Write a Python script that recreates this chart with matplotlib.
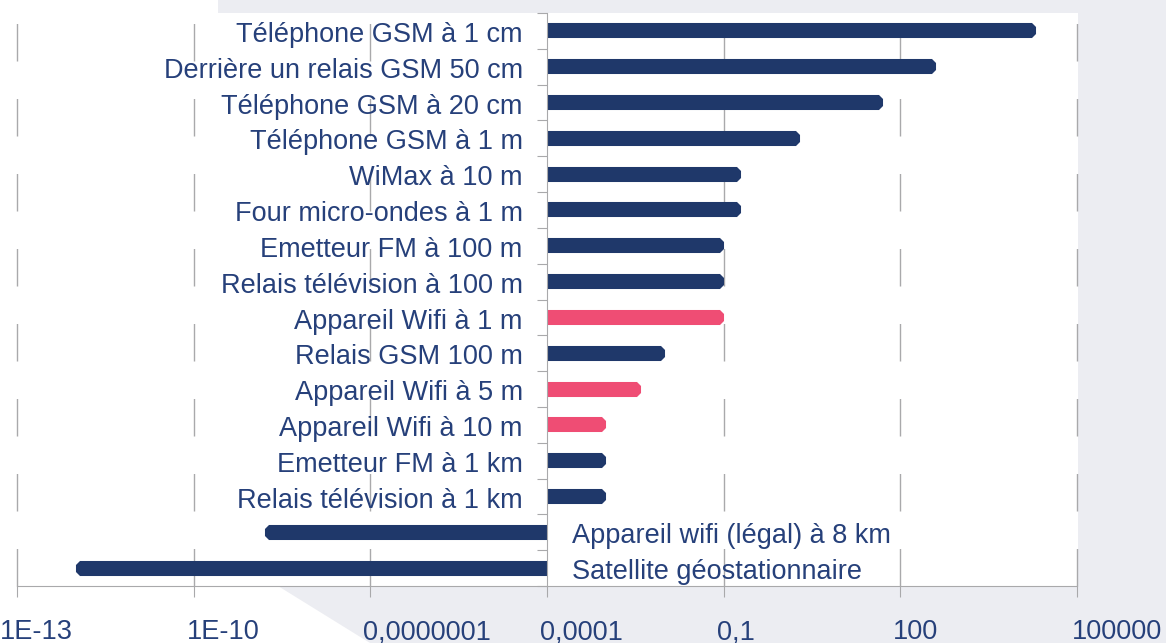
import numpy as np
import matplotlib
matplotlib.use("Agg")
import matplotlib.pyplot as plt
from matplotlib.patches import Polygon, Rectangle
from matplotlib.transforms import ScaledTranslation
from matplotlib.ticker import NullLocator

# exposure levels (log scale, bars start at 0.0001)
labels = [
    "Téléphone GSM à 1 cm",
    "Derrière un relais GSM 50 cm",
    "Téléphone GSM à 20 cm",
    "Téléphone GSM à 1 m",
    "WiMax à 10 m",
    "Four micro-ondes à 1 m",
    "Emetteur FM à 100 m",
    "Relais télévision à 100 m",
    "Appareil Wifi à 1 m",
    "Relais GSM 100 m",
    "Appareil Wifi à 5 m",
    "Appareil Wifi à 10 m",
    "Emetteur FM à 1 km",
    "Relais télévision à 1 km",
    "Appareil wifi (légal) à 8 km",
    "Satellite géostationnaire",
]
values = [20000, 400, 50, 2, 0.2, 0.2, 0.1, 0.1, 0.1, 0.01, 0.004,
          0.001, 0.001, 0.001, 1.6e-9, 1e-12]
wifi_rows = ["Appareil Wifi à 1 m", "Appareil Wifi à 5 m", "Appareil Wifi à 10 m"]

xticks = [1e-13, 1e-10, 1e-7, 1e-4, 1e-1, 1e2, 1e5]
xtick_labels = ["1E-13", "1E-10", "0,0000001", "0,0001", "0,1", "100", "100000"]
base = 1e-4

NAVY = "#1f386a"
PINK = "#ef4d74"
GRID = "#a9a9ab"
TEXT = "#26407a"
BG = "#ecedf2"

plt.rcParams["font.family"] = ["Liberation Sans", "DejaVu Sans"]
plt.rcParams["lines.scale_dashes"] = False

W, H = 1166, 643
fig = plt.figure(figsize=(W / 100, H / 100), dpi=100)
fig.patch.set_facecolor(BG)

# white panel behind the chart
pts = [(0, 0), (218, 0), (218, 13), (1078, 13), (1078, 586), (278, 586), (370, 643), (0, 643)]
fig.patches.append(Polygon([(x / W, 1 - y / H) for x, y in pts], closed=True,
                           transform=fig.transFigure, facecolor="white", edgecolor="none", zorder=-5))

ax = fig.add_axes([17 / W, 57 / H, 1060 / W, 573 / H])
ax.patch.set_visible(False)
ax.set_xscale("log")
ax.set_xlim(1e-13, 1e5)
ax.set_ylim(len(labels) - 0.5, -0.5)

px = 1 / 100  # one pixel in inches
for i, (name, v) in enumerate(zip(labels, values)):
    c = PINK if name in wifi_rows else NAVY
    left = min(v, base)
    width = abs(v - base)
    bar = ax.barh(i, width, left=left, height=0.196, color=c, edgecolor=c,
                  linewidth=5.8, joinstyle="bevel", zorder=2)[0]
    shift = -4 * px if v > base else 4 * px
    bar.set_transform(ax.transData + ScaledTranslation(shift, 0, fig.dpi_scale_trans))
    if v > base:
        clip = Rectangle((base, -2), 1e9, 30, transform=ax.transData)
        ax.annotate(name, xy=(base, i), xytext=(-17.5, -8), textcoords="offset points",
                    ha="right", va="baseline", fontsize=19.5, color=TEXT)
    else:
        clip = Rectangle((1e-20, -2), base - 1e-20, 30, transform=ax.transData)
        ax.annotate(name, xy=(base, i), xytext=(18, -8), textcoords="offset points",
                    ha="left", va="baseline", fontsize=19.5, color=TEXT)
    bar.set_clip_path(clip)

# dashed vertical grid
for t in xticks:
    if t == base:
        continue
    ax.axvline(t, color=GRID, lw=1.0, ls=(0, (27, 27)), zorder=1, clip_on=False)

for s in ["top", "right"]:
    ax.spines[s].set_visible(False)
ax.spines["left"].set_position(("data", base))
ax.spines["left"].set_color(GRID)
ax.spines["bottom"].set_color(GRID)
ax.spines["left"].set_zorder(3)

ax.set_yticks(np.arange(-0.5, len(labels), 1))
ax.tick_params(axis="y", direction="out", length=7, color=GRID, labelleft=False)
ax.set_xticks(xticks, xtick_labels)
ax.xaxis.set_minor_locator(NullLocator())
ax.tick_params(axis="x", direction="out", length=8, color=GRID, pad=16,
               labelsize=19.5, labelcolor=TEXT)

offsets = [-17, -7, -7, -7, -7, -7, -5]
for lab, off in zip(ax.get_xticklabels(), offsets):
    lab.set_ha("left")
    lab.set_transform(lab.get_transform() + ScaledTranslation(off * px, 0, fig.dpi_scale_trans))

fig.savefig("out.png", dpi=100)
